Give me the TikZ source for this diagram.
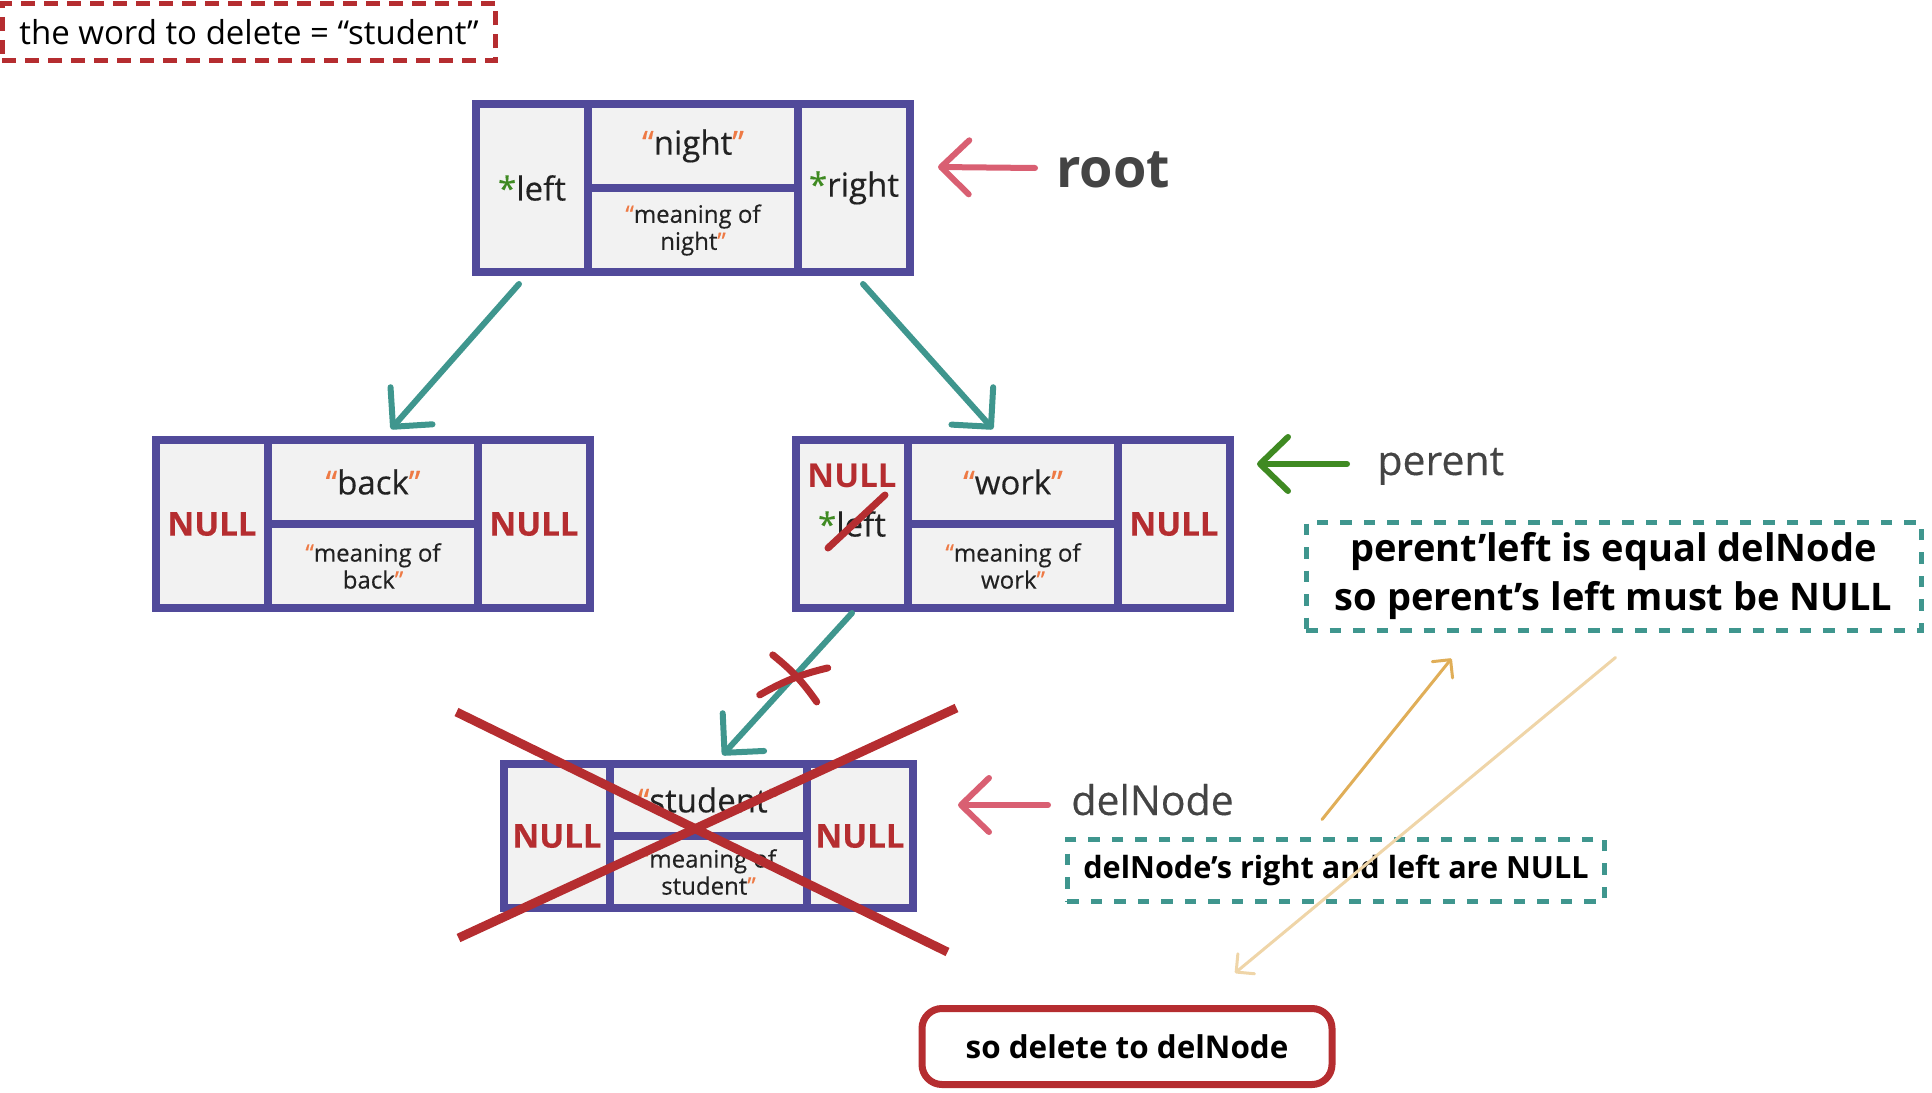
\documentclass[tikz,border=0pt]{standalone}
\usepackage{fontspec}
\setmainfont{Open Sans}
\newfontfamily\mediumfont{Open Sans}[FakeBold=0.35]
\usetikzlibrary{arrows.meta}
\usetikzlibrary{positioning}

\definecolor{bstpurple}{HTML}{514A9A}
\definecolor{cellgray}{HTML}{F2F2F2}
\definecolor{linkteal}{HTML}{3F968E}
\definecolor{nullred}{HTML}{B52D30}
\definecolor{rootpink}{HTML}{D95F72}
\definecolor{ptrgreen}{HTML}{3F8A22}
\definecolor{quoteorange}{HTML}{EE7A45}
\definecolor{hintgold}{HTML}{E0AE58}
\definecolor{hintsand}{HTML}{EFD5A8}
\definecolor{textdark}{HTML}{222222}
\definecolor{lblgray}{HTML}{444444}

\newcommand{\openq}{\textcolor{quoteorange}{“}}
\newcommand{\closeq}{\textcolor{quoteorange}{”}}
\newcommand{\ptr}{\textcolor{ptrgreen}{*}}
\newcommand{\nullword}{\textcolor{nullred}{\bfseries NULL}}

\begin{document}
\begin{tikzpicture}[x=0.5pt,y=-0.5pt,
    bcell/.style={draw=bstpurple,fill=cellgray,line width=4pt,inner sep=0pt,outer sep=0pt,align=center,text=textdark},
    sidecell/.style={bcell,minimum width=56pt,minimum height=84pt,font=\mediumfont\fontsize{16.5}{19}\selectfont},
    wordcell/.style={bcell,minimum width=105pt,minimum height=42pt,font=\mediumfont\fontsize{16.5}{19}\selectfont},
    meancell/.style={bcell,minimum width=105pt,minimum height=42pt,font=\mediumfont\fontsize{12}{13.5}\selectfont},
    lbl/.style={inner sep=0pt,text=lblgray},
    link/.style={draw=linkteal,line width=3pt,line cap=round,-{Straight Barb[length=14pt,width=28pt,round]}},
    pointer/.style={draw=#1,line width=3pt,line cap=round,-{Straight Barb[length=14pt,width=27pt,round]}},
    hint/.style={draw=#1,line width=1.5pt,line cap=round,-{Straight Barb[length=6.5pt,width=13pt,round]}},
    crossmark/.style={draw=nullred,line width=3.5pt,line cap=round},
    bigcross/.style={draw=nullred,line width=4.5pt},
    explbox/.style={draw=linkteal,line width=2.5pt,dash pattern=on 5.75pt off 6pt,inner sep=0pt,align=center,font=\bfseries\fontsize{19}{24.5}\selectfont}]

    \useasboundingbox (0,0) rectangle (1932,1092);

    % the word we look for
    \node[draw=nullred,line width=2.5pt,dash pattern=on 7pt off 4.5pt,inner sep=0pt,minimum width=246.75pt,minimum height=28.75pt,font=\fontsize{16.5}{20}\selectfont] (wordBox) at (249,32) {the word to delete = “student”};

    % root
    \node[sidecell] (rootL) at (532,188) {\ptr left};
    \node[wordcell,anchor=north west] (rootW) at (rootL.north east) {\openq night\closeq};
    \node[meancell,below=0pt of rootW] (rootM) {\openq meaning of\\night\closeq};
    \node[sidecell,anchor=north west] (rootR) at (rootW.north east) {\ptr right};

    % back
    \node[sidecell] (backL) at (212,524) {\nullword};
    \node[wordcell,anchor=north west] (backW) at (backL.north east) {\openq back\closeq};
    \node[meancell,below=0pt of backW] (backM) {\openq meaning of\\back\closeq};
    \node[sidecell,anchor=north west] (backR) at (backW.north east) {\nullword};

    % work
    \node[sidecell] (workL) at (852,524) {\ptr left};
    \node[wordcell,anchor=north west] (workW) at (workL.north east) {\openq work\closeq};
    \node[meancell,below=0pt of workW] (workM) {\openq meaning of\\work\closeq};
    \node[sidecell,anchor=north west] (workR) at (workW.north east) {\nullword};
    \node[inner sep=0pt,font=\fontsize{16.5}{19}\selectfont] (workNull) at ([shift={(0,-48)}]workL.center) {\nullword};

    % student
    \node[sidecell,minimum width=53pt,minimum height=72pt] (studL) at (557,836) {\nullword};
    \node[wordcell,minimum width=98.5pt,minimum height=36pt,anchor=north west] (studW) at (studL.north east) {\openq student\closeq};
    \node[meancell,minimum width=98.5pt,minimum height=36pt,below=0pt of studW] (studM) {\openq meaning of\\student\closeq};
    \node[sidecell,minimum width=53pt,minimum height=72pt,anchor=north west] (studR) at (studW.north east) {\nullword};

    % links
    \draw[link] ([shift={(-13,12)}]rootL.south) -- ([shift={(18,-11)}]backW.north);
    \draw[link] ([shift={(9,12)}]rootR.south) -- ([shift={(-20,-11)}]workW.north);
    \draw[link] ([shift={(0,5)}]workL.south) -- coordinate[pos=0.45] (cut) ([shift={(14,-9)}]studW.north);

    % crossed out
    \draw[crossmark] ([shift={(-34,18)}]cut) to[bend left=8] ([shift={(34,-9)}]cut);
    \draw[crossmark] ([shift={(-21,-22)}]cut) to[bend left=8] ([shift={(23,25)}]cut);
    \draw[crossmark] ([shift={(-24,24)}]workL.center) -- ([shift={(33,-29)}]workL.center);
    \draw[bigcross] ([shift={(-252,-124)}]studM.north) -- ([shift={(239,116)}]studM.north);
    \draw[bigcross] ([shift={(248,-128)}]studM.north) -- ([shift={(-250,102)}]studM.north);

    % labels
    \node[lbl,font=\bfseries\fontsize{27}{30}\selectfont,anchor=base west] (rootLbl) at (1056,187) {root};
    \node[lbl,font=\mediumfont\fontsize{20.5}{24}\selectfont,anchor=base west] (parentLbl) at (1377,475) {perent};
    \node[lbl,font=\mediumfont\fontsize{20.5}{24}\selectfont,anchor=base west] (delLbl) at (1071,815) {delNode};
    \draw[pointer=rootpink] ([shift={(-21,-19)}]rootLbl.base west) -- ([shift={(28,-21)}]rootR.east);
    \draw[pointer=ptrgreen] ([shift={(-30,-11)}]parentLbl.base west) -- ([shift={(27,-60)}]workR.east);
    \draw[pointer=rootpink] ([shift={(-23,-10)}]delLbl.base west) -- ([shift={(45,-31)}]studR.east);

    % notes
    \node[explbox,minimum width=307.5pt,minimum height=54pt] (explA) at (1613.5,576) {perent’left is equal delNode\\so perent’s left must be NULL};
    \node[explbox,minimum width=268.75pt,minimum height=31pt,font=\bfseries\fontsize{15.3}{18}\selectfont] (explB) at (1336,870) {delNode’s right and left are NULL};
    \node[draw=nullred,line width=3.5pt,rounded corners=10pt,minimum width=205pt,minimum height=38pt,font=\bfseries\fontsize{15.7}{18}\selectfont] (delBox) at (1127,1046.5) {so delete to delNode};

    \draw[hint=hintgold] ([shift={(-14,-17)}]explB.north) -- ([shift={(-162,26)}]explA.south);
    \draw[hint=hintsand] ([shift={(2,25)}]explA.south) -- ([shift={(108,-32)}]delBox.north);

\end{tikzpicture}
\end{document}
